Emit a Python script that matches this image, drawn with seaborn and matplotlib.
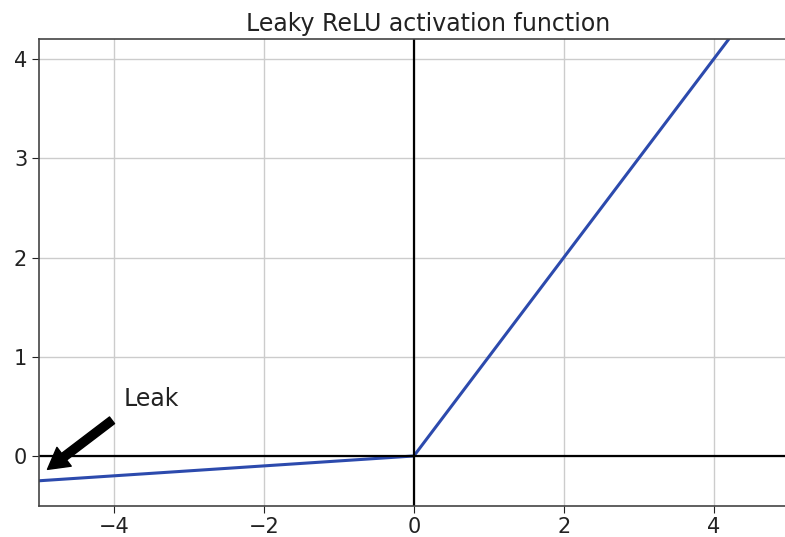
import numpy as np
import pandas as pd
import matplotlib
matplotlib.use("Agg")
import matplotlib.pyplot as plt
import seaborn as sns

# leaky relu, alpha = 0.05
z = [-5.0, 0.0, 4.2]
act = [-0.25, 0.0, 4.2]
df = pd.DataFrame({"z": z, "act": act})

sns.set_style("white")
plt.rcParams['font.family'] = ['DejaVu Sans']

fig = plt.figure(figsize=(7.85, 5.37), dpi=100)
ax = fig.add_axes([0.0497, 0.0585, 0.955, 0.8685])

sns.lineplot(data=df, x="z", y="act", color="#2c4aad", linewidth=2.2, ax=ax)
ax.plot([-5, 5], [0, 0], 'k-', linewidth=1.6)
ax.plot([0, 0], [-0.5, 4.2], 'k-', linewidth=1.6)

ax.grid(True, color="#cccccc", linewidth=1)
ax.set_axisbelow(True)
props = dict(facecolor='black', edgecolor='black', shrink=0.1, width=6, headwidth=17, headlength=15)
ax.annotate('Leak', xytext=(-3.5, 0.5), xy=(-5, -0.2), arrowprops=props, fontsize=17,
            ha="center", color="#222222")
ax.set_title("Leaky ReLU activation function", fontsize=17, color="#222222", x=0.519)
ax.axis([-5, 5, -0.5, 4.2])
ax.set_xlabel("")
ax.set_ylabel("")
ax.tick_params(labelsize=15, length=5, left=True, bottom=True, colors="#222222")
for s in ax.spines.values():
    s.set_color("#444444")
    s.set_linewidth(1.2)

fig.savefig("out.png", dpi=100)
